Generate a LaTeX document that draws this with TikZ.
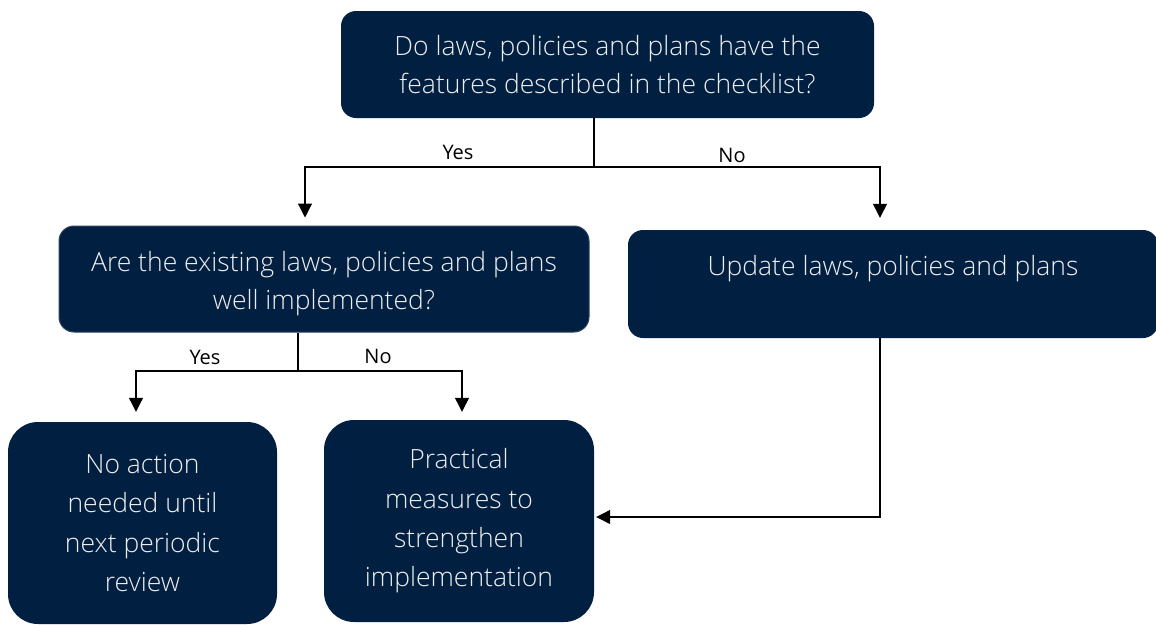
\documentclass[tikz,border=0pt]{standalone}
\usepackage{fontspec}
\setmainfont{Open Sans}
\newfontfamily\lightfont{Open Sans Light}
\usetikzlibrary{arrows.meta,calc}
\definecolor{navy}{HTML}{011F41}
\definecolor{navyedge}{HTML}{2E4260}
\definecolor{boxtext}{HTML}{EEEEEE}
\tikzset{
  boxtxt/.style={text=boxtext, align=center,
    font=\lightfont\fontsize{26.5}{38}\selectfont, inner sep=0pt},
  box/.style={boxtxt, fill=navy, draw=none, rounded corners=15pt},
  bigbox/.style={box, rounded corners=30pt, font=\lightfont\fontsize{26.5}{39.3}\selectfont},
  conn/.style={line width=1.2pt, draw=black},
  arr/.style={conn, -{Triangle[length=14pt,width=14pt]}},
  lbl/.style={font=\fontsize{20}{24}\selectfont, text=black, inner sep=0pt}
}
\begin{document}
\begin{tikzpicture}[x=1pt,y=-1pt]
\useasboundingbox (0,0) rectangle (1156,624);
\node[box, minimum width=533pt, minimum height=107pt] (top) at (607.5,64.5)
  {Do laws, policies and plans have the\\features described in the checklist?};
\node[box, draw=navyedge, line width=1pt, minimum width=530pt, minimum height=106pt,
  label={[boxtxt, yshift=-5pt]center:{Are the existing laws, policies and plans\\well implemented?}}] (mid) at (324,279) {};
\node[box, minimum width=530pt, minimum height=108pt] (upd) at (893,284)
  {Update laws, policies and plans\\[0pt]~};
\node[bigbox, minimum width=269pt, minimum height=202pt] (bl) at (142.5,523)
  {No action\\needed until\\next periodic\\review};
\node[bigbox, minimum width=270pt, minimum height=202pt] (bm) at (459,521)
  {Practical\\measures to\\strengthen\\implementation};
\coordinate (j1) at (594,167);
\coordinate (j2) at (298,371);
\draw[conn] (top.south -| j1) -- (j1);
\draw[arr] (j1) -| ($(mid.north)+(-19,-8)$);
\draw[arr] (j1) -| ($(upd.north)+(-13,-12)$);
\draw[conn] (mid.south -| j2) -- (j2);
\draw[arr] (j2) -| ($(bl.north)+(-6.5,-10)$);
\draw[arr] (j2) -| ($(bm.north)+(3,-8)$);
\draw[arr] ($(upd.south)+(-13,0)$) |- ($(bm.east)+(2,-4)$);
\node[lbl] (y1) at (458,152) {Yes};
\node[lbl] (n1) at (732,155) {No};
\node[lbl] (y2) at (205,357) {Yes};
\node[lbl] (n2) at (378,356) {No};
\end{tikzpicture}
\end{document}
